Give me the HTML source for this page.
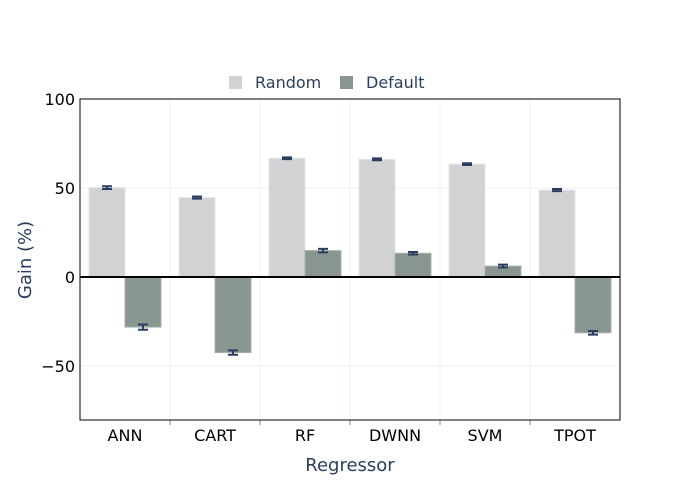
<!DOCTYPE html>
<html><head><meta charset="utf-8"><style>
body{margin:0;background:#fff;font-family:"DejaVu Sans",sans-serif}
svg text{font-family:"DejaVu Sans",sans-serif}
</style></head><body>
<svg id="chart" width="700" height="500" xmlns="http://www.w3.org/2000/svg"></svg>
<script>
const categories=["ANN","CART","RF","DWNN","SVM","TPOT"];
const randomVals=[50.2,44.6,66.7,66.1,63.4,48.8];
const randomErr=[0.8,0.6,0.5,0.5,0.5,0.6];
const defaultVals=[-28.2,-42.5,14.8,13.3,6.1,-31.4];
const defaultErr=[1.5,1.2,1.0,0.7,0.8,1.0];
const yTicks=[100,50,0,-50];
const NS="http://www.w3.org/2000/svg";
const svg=document.getElementById('chart');
const L=80,R=620,T=99,B=420,yMax=100,yMin=-80.4;
const y=v=>T+(yMax-v)/(yMax-yMin)*(B-T);
const band=(R-L)/categories.length;
const x=i=>L+band*i;
function mk(tag,attrs,text){const e=document.createElementNS(NS,tag);for(const k in attrs)e.setAttribute(k,attrs[k]);if(text!==undefined)e.textContent=text;svg.appendChild(e);return e;}
yTicks.forEach(t=>{if(t!==0&&t!==100){const g=mk('line',{x1:L,x2:R,y1:y(t),y2:y(t),stroke:'#eef0f7','stroke-width':1});

}
const lb=mk('text',{x:L-5,y:y(t)+6,'text-anchor':'end','font-size':16,fill:'#000'},t<0?'\u2212'+(-t):String(t));

});
for(let i=1;i<categories.length;i++){const g=mk('line',{x1:x(i),x2:x(i),y1:T,y2:B,stroke:'#eef0f7','stroke-width':1});


const tk=mk('line',{x1:x(i),x2:x(i),y1:B,y2:B+5,stroke:'#888','stroke-width':1});

}
const bw=band*0.4;
categories.forEach((c,i)=>{
 const cx=x(i)+band/2;
 [[randomVals,randomErr,'#d1d2d4','#e4e5e6',cx-bw],[defaultVals,defaultErr,'#89968f','#a8b2ad',cx]].forEach((s,k)=>{
  const v=s[0][i],e=s[1][i];
  const r=mk('rect',{x:s[4],y:Math.min(y(v),y(0)),width:bw,height:Math.abs(y(v)-y(0)),fill:s[2],stroke:s[3],'stroke-width':1});
  
  
  const ex=s[4]+bw/2;
  const eg=mk('path',{d:`M${ex},${y(v+e)}V${y(v-e)}M${ex-5},${y(v+e)}H${ex+5}M${ex-5},${y(v-e)}H${ex+5}`,stroke:'#2a3f5f','stroke-width':2,fill:'none'});
  
  
 });
 const xl=mk('text',{x:cx,y:B+21,'text-anchor':'middle','font-size':16,fill:'#000'},c);
 
 
});
const z=mk('line',{x1:L,x2:R,y1:y(0),y2:y(0),stroke:'#000','stroke-width':2});


const fr=mk('rect',{x:L,y:T,width:R-L,height:B-T,fill:'none',stroke:'#000','stroke-width':1});


const xt=mk('text',{x:350,y:471,'text-anchor':'middle','font-size':18,fill:'#2a3f5f'},'Regressor');


const yt=mk('text',{x:31,y:260,'text-anchor':'middle','font-size':18,fill:'#2a3f5f',transform:'rotate(-90 31 260)'},'Gain (%)');


const l1=mk('rect',{x:229,y:76,width:13,height:13,fill:'#d1d2d4'});


const lt1=mk('text',{x:255,y:88,'font-size':16,fill:'#2a3f5f'},'Random');


const l2=mk('rect',{x:340,y:76,width:13,height:13,fill:'#89968f'});


const lt2=mk('text',{x:366,y:88,'font-size':16,fill:'#2a3f5f'},'Default');


</script>
</body></html>
